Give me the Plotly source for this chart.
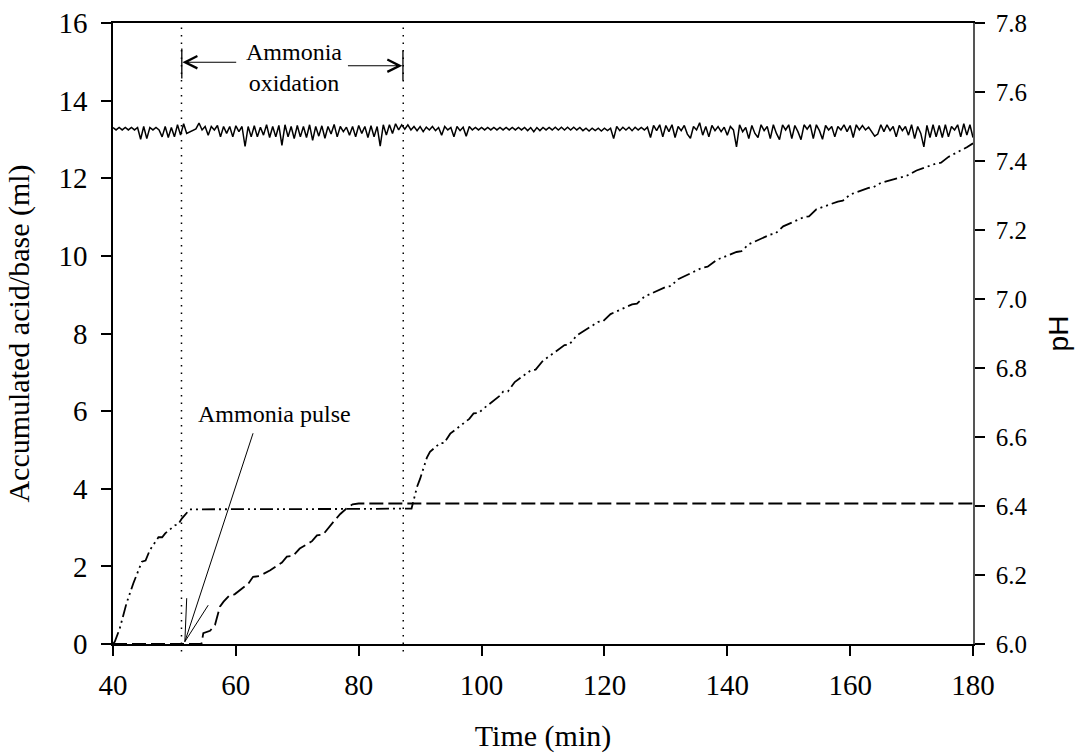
import plotly.graph_objects as go

# ---------------- data ----------------
# time axis (min) ticks
x_ticks = [40, 60, 80, 100, 120, 140, 160, 180]
y_ticks = [0, 2, 4, 6, 8, 10, 12, 14, 16]
ph_ticks = [6.0, 6.2, 6.4, 6.6, 6.8, 7.0, 7.2, 7.4, 7.6, 7.8]
ph_tick_text = ["6.0", "6.2", "6.4", "6.6", "6.8", "7.0", "7.2", "7.4", "7.6", "7.8"]

# accumulated titrant 1 (dash-dot-dot curve), ml
acc1_time = [40.0, 40.3, 41.1, 42.2, 43.3, 44.7, 45.3, 46.0, 47.4, 48.0, 48.5, 50.1, 50.6,
             51.2, 52.5, 70.0, 80.0, 88.6, 89.5, 90.0, 91.1, 91.6, 93.2, 93.9, 94.9, 98.0,
             98.7, 99.5, 100.2, 103.0, 103.5, 104.3, 105.4, 108.0, 108.8, 110.0, 113.5,
             114.3, 115.5, 119.0, 119.8, 121.0, 124.5, 125.3, 126.5, 130.0, 130.8, 132.0,
             136.0, 136.8, 138.3, 141.5, 142.3, 143.5, 147.0, 147.8, 149.1, 152.5, 153.3,
             154.5, 158.0, 158.8, 160.0, 163.0, 163.8, 165.0, 168.5, 169.3, 170.8, 174.0,
             174.8, 176.0, 179.0, 180.0]
acc1_ml = [0.00, 0.06, 0.40, 1.05, 1.56, 2.12, 2.15, 2.42, 2.75, 2.75, 2.85, 3.06, 3.08,
           3.23, 3.47, 3.47, 3.48, 3.49, 4.05, 4.26, 4.80, 4.95, 5.17, 5.18, 5.42, 5.80,
           5.94, 5.95, 6.05, 6.40, 6.50, 6.51, 6.75, 7.05, 7.07, 7.30, 7.70,
           7.72, 7.95, 8.30, 8.32, 8.50, 8.75, 8.77, 8.95, 9.20, 9.22, 9.40,
           9.70, 9.72, 9.90, 10.10, 10.12, 10.30, 10.55, 10.57, 10.76, 11.00, 11.02,
           11.20, 11.40, 11.42, 11.58, 11.75, 11.77, 11.88, 12.05, 12.07, 12.20, 12.38,
           12.40, 12.55, 12.80, 12.90]

# accumulated titrant 2 (dashed curve), ml
acc2_time = [40.0, 54.4, 54.7, 55.8, 56.6, 57.4, 58.0, 59.0, 59.8, 60.7, 62.0, 62.8, 63.8,
             65.6, 67.5, 68.3, 69.3, 70.4, 72.4, 73.2, 74.2, 75.9, 77.0, 78.0, 79.0, 80.0, 180.0]
acc2_ml = [0.00, 0.00, 0.28, 0.34, 0.49, 0.96, 1.09, 1.26, 1.28, 1.39, 1.55, 1.73, 1.75,
           1.90, 2.10, 2.25, 2.27, 2.46, 2.65, 2.80, 2.82, 3.15, 3.35, 3.49, 3.60, 3.62, 3.62]

# pH readings, one every 0.5 min from 40 to 180 (rows of 5 min)
ph_values = [
    7.497, 7.490, 7.497, 7.490, 7.497, 7.490, 7.497, 7.490, 7.497, 7.463,
    7.500, 7.465, 7.497, 7.490, 7.497, 7.490, 7.470, 7.500, 7.468, 7.497,
    7.470, 7.505, 7.475, 7.508, 7.480, 7.484, 7.488, 7.493, 7.510, 7.490,
    7.500, 7.475, 7.500, 7.490, 7.503, 7.470, 7.500, 7.480, 7.500, 7.470,
    7.502, 7.485, 7.500, 7.442, 7.500, 7.470, 7.502, 7.470, 7.498, 7.475,
    7.505, 7.468, 7.500, 7.470, 7.503, 7.445, 7.505, 7.470, 7.500, 7.465,
    7.503, 7.470, 7.500, 7.468, 7.505, 7.460, 7.500, 7.472, 7.502, 7.466,
    7.500, 7.478, 7.506, 7.470, 7.500, 7.485, 7.498, 7.475, 7.500, 7.470,
    7.503, 7.480, 7.500, 7.468, 7.502, 7.470, 7.500, 7.443, 7.505, 7.475,
    7.505, 7.480, 7.508, 7.490, 7.505, 7.492, 7.505, 7.490, 7.500, 7.488,
    7.500, 7.485, 7.498, 7.490, 7.500, 7.488, 7.497, 7.475, 7.500, 7.490,
    7.497, 7.470, 7.500, 7.488, 7.498, 7.472, 7.500, 7.490, 7.497, 7.490,
    7.497, 7.490, 7.497, 7.490, 7.497, 7.490, 7.497, 7.490, 7.497, 7.490,
    7.497, 7.490, 7.497, 7.490, 7.497, 7.488, 7.497, 7.485, 7.497, 7.488,
    7.497, 7.490, 7.497, 7.490, 7.498, 7.490, 7.498, 7.490, 7.498, 7.490,
    7.498, 7.490, 7.497, 7.488, 7.495, 7.487, 7.495, 7.488, 7.495, 7.487,
    7.495, 7.488, 7.495, 7.465, 7.500, 7.488, 7.498, 7.490, 7.498, 7.488,
    7.498, 7.490, 7.497, 7.490, 7.498, 7.468, 7.503, 7.488, 7.505, 7.470,
    7.503, 7.485, 7.505, 7.468, 7.500, 7.488, 7.503, 7.478, 7.466, 7.500,
    7.490, 7.511, 7.475, 7.500, 7.470, 7.503, 7.488, 7.500, 7.485, 7.498,
    7.475, 7.500, 7.490, 7.441, 7.505, 7.485, 7.497, 7.465, 7.503, 7.480,
    7.468, 7.505, 7.488, 7.500, 7.465, 7.505, 7.480, 7.462, 7.505, 7.490,
    7.505, 7.465, 7.503, 7.485, 7.462, 7.505, 7.492, 7.505, 7.465, 7.505,
    7.488, 7.463, 7.503, 7.490, 7.500, 7.470, 7.500, 7.490, 7.505, 7.485,
    7.503, 7.468, 7.505, 7.490, 7.503, 7.490, 7.498, 7.484, 7.472, 7.478,
    7.505, 7.485, 7.505, 7.488, 7.500, 7.470, 7.503, 7.488, 7.500, 7.475,
    7.505, 7.465, 7.500, 7.480, 7.441, 7.503, 7.468, 7.505, 7.470, 7.503,
    7.468, 7.505, 7.470, 7.500, 7.490, 7.505, 7.470, 7.508, 7.475, 7.505,
    7.468,
]
ph_time = [40 + 0.5 * i for i in range(len(ph_values))]

# event times (min)
pulse_time = 51.7
oxidation_start = 51.15
oxidation_end = 87.25

# ---------------- figure ----------------
SERIF = "Liberation Serif, Times New Roman, serif"
fig = go.Figure()

fig.add_trace(go.Scatter(x=ph_time, y=ph_values, yaxis="y2", mode="lines",
                         line=dict(color="black", width=1.5), name="pH"))
fig.add_trace(go.Scatter(x=acc1_time, y=acc1_ml, mode="lines",
                         line=dict(color="black", width=1.8,
                                   dash="13px,4px,2px,4px,2px,4px"),
                         name="Titrant 1"))
fig.add_trace(go.Scatter(x=acc2_time, y=acc2_ml, mode="lines",
                         line=dict(color="black", width=1.8, dash="14px,5px"),
                         name="Titrant 2"))

shapes = []
# dotted event lines
for xv in (oxidation_start, oxidation_end):
    shapes.append(dict(type="line", xref="x", yref="paper", x0=xv, x1=xv,
                       y0=-0.012, y1=1, line=dict(color="black", width=1.5, dash="1.5px,6px")))
# end bars of the oxidation bracket
shapes.append(dict(type="line", xref="x", yref="y", x0=51.2, x1=51.2, y0=14.57, y1=15.34,
                   line=dict(color="black", width=1.3)))
shapes.append(dict(type="line", xref="x", yref="y", x0=87.2, x1=87.2, y0=14.52, y1=15.29,
                   line=dict(color="black", width=1.3)))
# ammonia pulse pointer lines
shapes.append(dict(type="line", xref="x", yref="y", x0=pulse_time, y0=0.06, x1=62.8, y1=5.43,
                   line=dict(color="black", width=1)))
shapes.append(dict(type="line", xref="x", yref="y", x0=pulse_time, y0=0.06, x1=52.0, y1=1.18,
                   line=dict(color="black", width=1)))
shapes.append(dict(type="line", xref="x", yref="y", x0=pulse_time, y0=0.06, x1=55.5, y1=1.0,
                   line=dict(color="black", width=1)))

annotations = [
    dict(x=69.5, y=14.85, xref="x", yref="y", text="Ammonia<br>oxidation", showarrow=False,
         font=dict(family=SERIF, size=24, color="black"), xanchor="center", yanchor="middle"),
    dict(x=53.5, y=5.92, xref="x", yref="y", text="Ammonia pulse", showarrow=False,
         font=dict(family=SERIF, size=24, color="black"), xanchor="left", yanchor="middle"),
    dict(x=51.3, y=14.99, ax=60.3, ay=14.99, xref="x", yref="y", axref="x", ayref="y",
         text="", showarrow=True, arrowhead=5, arrowsize=2.2, arrowwidth=1.1, arrowcolor="black"),
    dict(x=87.1, y=14.9, ax=78.0, ay=14.9, xref="x", yref="y", axref="x", ayref="y",
         text="", showarrow=True, arrowhead=5, arrowsize=2.2, arrowwidth=1.1, arrowcolor="black"),
]

axis_common = dict(showgrid=False, zeroline=False, ticks="outside", ticklen=10,
                   tickwidth=1.5, tickcolor="black", showline=True, linewidth=1.5,
                   automargin=False)

fig.update_layout(
    width=1076, height=753,
    margin=dict(l=113, r=103, t=23, b=109, pad=0, autoexpand=False),
    paper_bgcolor="white", plot_bgcolor="white",
    showlegend=False,
    font=dict(family=SERIF, color="black"),
    xaxis=dict(range=[40, 180], tickvals=x_ticks, linecolor="black", mirror=True,
               tickfont=dict(family=SERIF, size=29, color="black"), ticklabelstandoff=4,
               title=dict(text="Time (min)", font=dict(family=SERIF, size=30, color="black"),
                          standoff=34),
               **axis_common),
    yaxis=dict(range=[0, 16], tickvals=y_ticks, linecolor="black",
               tickfont=dict(family=SERIF, size=29, color="black"), ticklabelstandoff=8,
               title=dict(text="Accumulated acid/base (ml)",
                          font=dict(family=SERIF, size=30, color="black"), standoff=20),
               **axis_common),
    yaxis2=dict(range=[6.0, 7.8], overlaying="y", side="right", tickvals=ph_ticks,
                ticktext=ph_tick_text, linecolor="#555555",
                tickfont=dict(family=SERIF, size=25, color="black"), ticklabelstandoff=6,
                title=dict(text="pH", font=dict(family="Liberation Sans, Arial, sans-serif",
                                                size=28, color="black"),
                           standoff=22),
                **axis_common),
    shapes=shapes,
    annotations=annotations,
)

fig.write_html("out.html",
               config={"displayModeBar": False},
               post_script="document.body.style.margin='0';document.body.style.padding='0';")
